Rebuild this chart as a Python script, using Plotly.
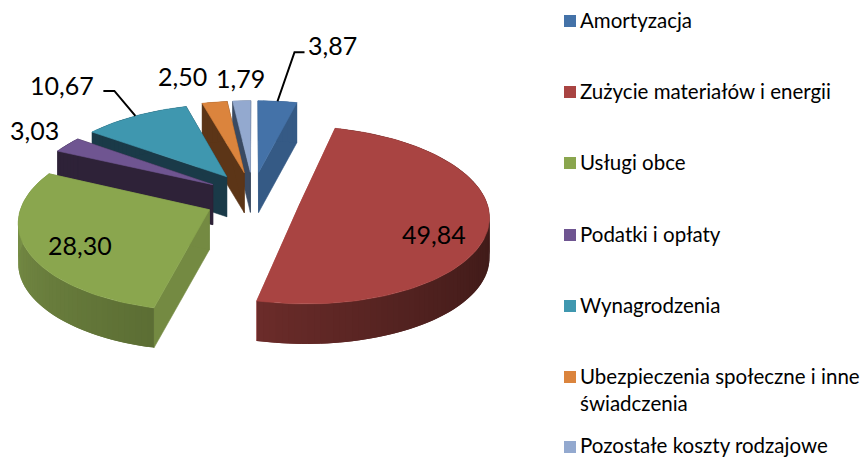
import math
import plotly.graph_objects as go

# ---- data ----
categories = ["Amortyzacja", "Zużycie materiałów i energii", "Usługi obce", "Podatki i opłaty",
              "Wynagrodzenia", "Ubezpieczenia społeczne i inne<br>świadczenia", "Pozostałe koszty rodzajowe"]
values = [3.87, 49.84, 28.30, 3.03, 10.67, 2.50, 1.79]

# ---- style ----
top_colors = ["#4472A8", "#A94442", "#8AA64E", "#6F5591", "#3F97AF", "#DB843D", "#93A9CF"]
wall_colors = ["#355A85", "#A94442", "#748A42", "#2E2238", "#1A3A48", "#5C3517", "#3A4A62"]
arc_dark = {1: ((108, 44, 42), (62, 26, 24)), 2: ((128, 152, 76), (92, 110, 52))}
draw_order = [0, 6, 5, 4, 3, 2, 1]
label_pos = [(332, 45), (434, 234), (80, 245), (34, 130), (62, 85), (182, 76), (240, 78)]
legend_y = [21, 92, 163, 235, 306, 377, 447]
legend_text_y = [20, 91, 162, 234, 305, 389, 445]
FONT = "Lato"

CX, CY, RX, RY, K, EX, EV, H = 253, 198, 186, 86, 0.12, 0.256, 0.31, 40

def proj(u, v, dz=0.0):
    s = 1 / (1 + K * v)
    return CX + RX * u * s, CY - RY * v * s + dz

def poly(pts, color, width=0.6):
    return go.Scatter(x=[p[0] for p in pts] + [pts[0][0]], y=[p[1] for p in pts] + [pts[0][1]],
                      mode="lines", fill="toself", fillcolor=color,
                      line=dict(color=color, width=width), hoverinfo="skip", showlegend=False)

total = sum(values)
spans = []
acc = 0.0
for val in values:
    spans.append((acc / total * 2 * math.pi, (acc + val) / total * 2 * math.pi))
    acc += val

fig = go.Figure()
anchors = {}
for i in draw_order:
    a0, a1 = spans[i]
    mid = (a0 + a1) / 2
    u0, v0 = EX * math.sin(mid), EV * math.cos(mid)
    n = max(4, int((a1 - a0) / 0.03))
    angs = [a0 + (a1 - a0) * j / n for j in range(n + 1)]
    rim = [(u0 + math.sin(t), v0 + math.cos(t)) for t in angs]
    anchors[i] = proj(u0 + math.sin(mid), v0 + math.cos(mid))
    # radial walls
    for (u, v) in (rim[0], rim[-1]):
        fig.add_trace(poly([proj(u0, v0), proj(u, v), proj(u, v, H), proj(u0, v0, H)], wall_colors[i]))
    # outer wall, shaded in overlapping bands so no seams show
    for j in range(n):
        if i in arc_dark:
            c0, c1 = arc_dark[i]
            if i == 1:  # darkest toward the right of the front, lighter at the left end
                g = max(0.0, min(1.0, (angs[j] - math.pi / 2) / (a1 - math.pi / 2)))
                f = 1 - g ** 1.5
            else:
                f = 1 - j / max(1, n - 1)
            col = "rgb(%d,%d,%d)" % tuple(round(c0[k] + (c1[k] - c0[k]) * f) for k in range(3))
        else:
            col = wall_colors[i]
        seg = rim[j:j + 3]
        fig.add_trace(poly([proj(*p) for p in seg] + [proj(*p, H) for p in reversed(seg)], col, width=0))
    # top face
    fig.add_trace(poly([proj(u0, v0)] + [proj(u, v) for u, v in rim], top_colors[i]))

# leader lines for the two labels that sit away from their slice
leaders = {0: [(17, -49), (27, -49)], 4: [(-21, -25), (-32, -25)]}
for i, off in leaders.items():
    ax, ay = anchors[i]
    fig.add_trace(go.Scatter(x=[ax] + [ax + o[0] for o in off], y=[ay] + [ay + o[1] for o in off],
                             mode="lines", line=dict(color="black", width=2),
                             hoverinfo="skip", showlegend=False))

# value labels
for val, (lx, ly) in zip(values, label_pos):
    fig.add_annotation(x=lx, y=ly, text=f"{val:.2f}".replace(".", ","), showarrow=False,
                       font=dict(family=FONT, size=25, color="black"))

# legend
for name, col, my, ty in zip(categories, top_colors, legend_y, legend_text_y):
    fig.add_trace(go.Scatter(x=[570], y=[my], mode="markers", hoverinfo="skip", showlegend=False,
                             marker=dict(symbol="square", size=12, color=col)))
    fig.add_annotation(x=579, y=ty, text=name, showarrow=False, xanchor="left", align="left",
                       borderpad=0, font=dict(family=FONT, size=20.5, color="black"))

fig.update_xaxes(range=[0, 865], visible=False, fixedrange=True)
fig.update_yaxes(range=[459, 0], visible=False, fixedrange=True)
fig.update_layout(width=865, height=459, margin=dict(l=0, r=0, t=0, b=0),
                  paper_bgcolor="white", plot_bgcolor="white", showlegend=False)
fig.write_html("out.html", config={"displayModeBar": False},
               post_script="document.body.style.margin='0';")
